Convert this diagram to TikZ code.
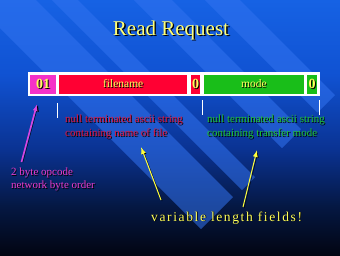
\documentclass[tikz,border=0pt]{standalone}
\usepackage{fontspec}
\setmainfont{Liberation Serif}
\newfontfamily\spacedfont[LetterSpace=12]{Liberation Serif}
\usetikzlibrary{arrows.meta}
\definecolor{bgA}{RGB}{22,98,228}
\definecolor{bgB}{RGB}{16,82,210}
\definecolor{bgC}{RGB}{10,50,145}
\definecolor{bgD}{RGB}{5,24,68}
\definecolor{bgE}{RGB}{2,5,18}
\definecolor{bandc}{RGB}{50,115,240}
\definecolor{titley}{RGB}{255,255,120}
\definecolor{fieldy}{RGB}{255,255,90}
\definecolor{pinkf}{RGB}{245,50,200}
\definecolor{redf}{RGB}{255,0,51}
\definecolor{greenf}{RGB}{25,190,25}
\definecolor{redt}{RGB}{225,20,60}
\definecolor{greent}{RGB}{30,195,50}
\definecolor{pinkt}{RGB}{235,60,205}
\definecolor{arrowy}{RGB}{255,255,60}
\definecolor{arrowp}{RGB}{215,70,225}
\newcommand\shtxt[2][0.8pt]{\leavevmode\rlap{\kern#1\raisebox{-#1}{\color{black}#2}}#2}
\begin{document}
\begin{tikzpicture}[x=1pt,y=-1pt,
  band/.style={fill=bandc, fill opacity=0.55, draw=none},
  field/.style={draw=none, inner sep=0pt, minimum height=19.5pt, anchor=west,
    text=fieldy, font=\fontsize{11.5}{13}\selectfont},
  digit/.style={field, font=\bfseries\fontsize{14}{16}\selectfont},
  desc/.style={align=left, inner sep=0pt, anchor=north west, font=\fontsize{11}{13.5}\selectfont},
  tickmark/.style={draw=white, line width=1pt},
  yarrow/.style={draw=arrowy, line width=1pt, -{Latex[length=7pt,width=5pt]},
    preaction={draw=black, transform canvas={shift={(1.2pt,-1pt)}}}},
  parrow/.style={draw=arrowp, line width=1.6pt, -{Latex[length=7pt,width=5pt]},
    preaction={draw=black, transform canvas={shift={(1.3pt,-0.5pt)}}}}]
\useasboundingbox (0,0) rectangle (340,255);
% background
\fill[top color=bgA,bottom color=bgB] (0,0) rectangle (340,75.5);
\fill[top color=bgB,bottom color=bgC] (0,75) rectangle (340,150.5);
\fill[top color=bgC,bottom color=bgD] (0,150) rectangle (340,205.5);
\fill[top color=bgD,bottom color=bgE] (0,205) rectangle (340,255);
\begin{scope}
\clip (0,0) rectangle (340,255);
\fill[band] (-28,0) -- (36,0) -- (233,197) -- (201,229) -- cycle;
\fill[band] (52,0) -- (78,0) -- (255,177) -- (242,190) -- cycle;
\fill[band] (134,0) -- (172,0) -- (301,129) -- (282,148) -- cycle;
\fill[band] (205,0) -- (240,0) -- (335,95) -- (317.5,112.5) -- cycle;
\end{scope}
% title
\node[anchor=base, inner sep=0pt, text=titley, font=\fontsize{21}{24}\selectfont] (title) at (171,35) {\shtxt[1.3pt]{Read Request}};
% packet
\node[fill=white, minimum width=291.5pt, minimum height=24pt, inner sep=0pt, anchor=north west] (pkt) at (28,72) {};
\node[digit, fill=pinkf, minimum width=26pt] (op) at (30,84.25) {\shtxt{01}};
\node[field, fill=redf, minimum width=128pt] (fn) at (59,84.25) {\shtxt{filename}};
\node[digit, fill=redf, minimum width=9pt] (z1) at (191,84.25) {\shtxt{0}};
\node[field, fill=greenf, minimum width=100.5pt] (md) at (203.5,84.25) {\shtxt{mode}};
\node[digit, fill=greenf, minimum width=10pt] (z2) at (307,84.25) {\shtxt{0}};
% ticks
\coordinate (k1a) at (57.5,103); \coordinate (k1b) at (57.5,117.5);
\coordinate (k2a) at (202,100); \coordinate (k2b) at (202,115);
\coordinate (k3a) at (319.5,100); \coordinate (k3b) at (319.5,115);
\draw[tickmark] (k1a) -- (k1b);
\draw[tickmark] (k2a) -- (k2b);
\draw[tickmark] (k3a) -- (k3b);
% descriptions
\node[desc, text=redt] (fnd) at (65,115) {\shtxt{null terminated ascii string}\\\shtxt{containing name of file}};
\node[desc, text=greent] (mdd) at (207,115) {\shtxt{null terminated ascii string}\\\shtxt{containing transfer mode}};
\node[desc, text=pinkt, font=\fontsize{11}{12.5}\selectfont] (opd) at (11,168) {\shtxt{2 byte opcode}\\\shtxt{network byte order}};
\node[anchor=base west, inner sep=0pt, text=fieldy, font=\fontsize{13.5}{16}\spacedfont] (vl) at (151,221) {\shtxt{variable length fields!}};
% arrows
\coordinate (pt) at (21.5,162); \coordinate (ph) at (37,104);
\coordinate (y1t) at (161,200); \coordinate (y1h) at (141,147);
\coordinate (y2t) at (243,207); \coordinate (y2h) at (257,150);
\draw[parrow] (pt) -- (ph);
\draw[yarrow] (y1t) -- (y1h);
\draw[yarrow] (y2t) -- (y2h);
\end{tikzpicture}
\end{document}
